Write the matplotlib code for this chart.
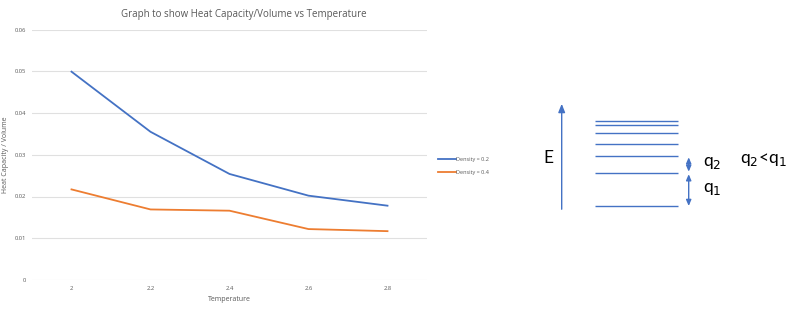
import matplotlib
matplotlib.use("Agg")
import matplotlib.pyplot as plt
import numpy as np

# ---- data ----
temperatures = ["2", "2.2", "2.4", "2.6", "2.8"]
density_02 = [0.0499, 0.0355, 0.0254, 0.0202, 0.0178]
density_04 = [0.0217, 0.0169, 0.0166, 0.0122, 0.0117]
series_labels = ["Density = 0.2", "Density = 0.4"]
yticks = [0, 0.01, 0.02, 0.03, 0.04, 0.05, 0.06]
ytick_labels = ["0", "0.01", "0.02", "0.03", "0.04", "0.05", "0.06"]
# energy-level diagram (pixel rows in the figure, top-down)
level_rows = [120.7, 124.7, 133.3, 144.3, 156.3, 172.7, 206.0]

BLUE = "#4472C4"
ORANGE = "#ED7D31"
GRAY = "#595959"

plt.rcParams['font.family'] = ['Open Sans', 'DejaVu Sans']

W, H = 800, 322
fig = plt.figure(figsize=(W / 100, H / 100), dpi=100)
fig.patch.set_facecolor("white")

# main axes: x 32..427, y 29.5..280 (pixels)
ax = fig.add_axes([32 / W, 1 - 280 / H, (427 - 32) / W, (280 - 29.5) / H])
x = np.arange(len(temperatures))
ax.plot(x, density_02, color=BLUE, lw=1.3, label=series_labels[0])
ax.plot(x, density_04, color=ORANGE, lw=1.3, label=series_labels[1])
ax.set_xlim(-0.5, len(temperatures) - 0.5)
ax.set_ylim(0, 0.06)
ax.set_yticks(yticks)
ax.set_yticklabels(ytick_labels)
ax.set_xticks(x)
ax.set_xticklabels(temperatures)
ax.grid(axis="y", color="#e0e0e0", lw=0.8)
ax.set_axisbelow(True)
for s in ax.spines.values():
    s.set_visible(False)
ax.tick_params(length=0, labelsize=4.2, colors=GRAY, pad=4)
ax.set_xlabel("Temperature", fontsize=5, color=GRAY, labelpad=4)
ax.set_ylabel("Heat Capacity / Volume", fontsize=5, color=GRAY, labelpad=4)
fig.text(244 / W, 1 - 15 / H, "Graph to show Heat Capacity/Volume vs Temperature",
         ha="center", va="center", fontsize=7, color=GRAY)
leg = ax.legend(loc="center left", bbox_to_anchor=(433 / W, 1 - 166 / H),
                bbox_transform=fig.transFigure, frameon=False, fontsize=4,
                handlelength=3.2, handletextpad=0.1, labelspacing=1.6,
                labelcolor=GRAY)

# diagram overlay in pixel coordinates
d = fig.add_axes([0, 0, 1, 1], facecolor="none")
d.set_xlim(0, W)
d.set_ylim(H, 0)
d.axis("off")
d.annotate("", xy=(561.7, 101), xytext=(561.7, 212),
           arrowprops=dict(arrowstyle="-|>,head_length=0.5,head_width=0.2",
                           color=BLUE, lw=1))
FONT = ["Lato", "DejaVu Sans"]
d.text(548, 158, "E", fontsize=12.5, ha="center", va="center", color="black",
       family=FONT)
d.hlines(level_rows, 595, 678, color=BLUE, lw=1)
arrow_kw = dict(arrowstyle="<|-|>,head_length=0.35,head_width=0.15", color=BLUE,
                lw=1, shrinkA=0, shrinkB=0)
d.annotate("", xy=(688.7, level_rows[4] + 1), xytext=(688.7, level_rows[5] - 1),
           arrowprops=arrow_kw)
d.annotate("", xy=(688.7, level_rows[5] + 1.5), xytext=(688.7, level_rows[6]),
           arrowprops=arrow_kw)
d.text(703, 163, r"q$_2$", fontsize=12.5, ha="left", va="center", color="black",
       family=FONT)
d.text(703, 189, r"q$_1$", fontsize=12.5, ha="left", va="center", color="black",
       family=FONT)
d.text(740, 159, r"q$_2$<q$_1$", fontsize=12.5, ha="left", va="center", color="black",
       family=FONT)

fig.savefig("out.png", dpi=100, facecolor="white")
